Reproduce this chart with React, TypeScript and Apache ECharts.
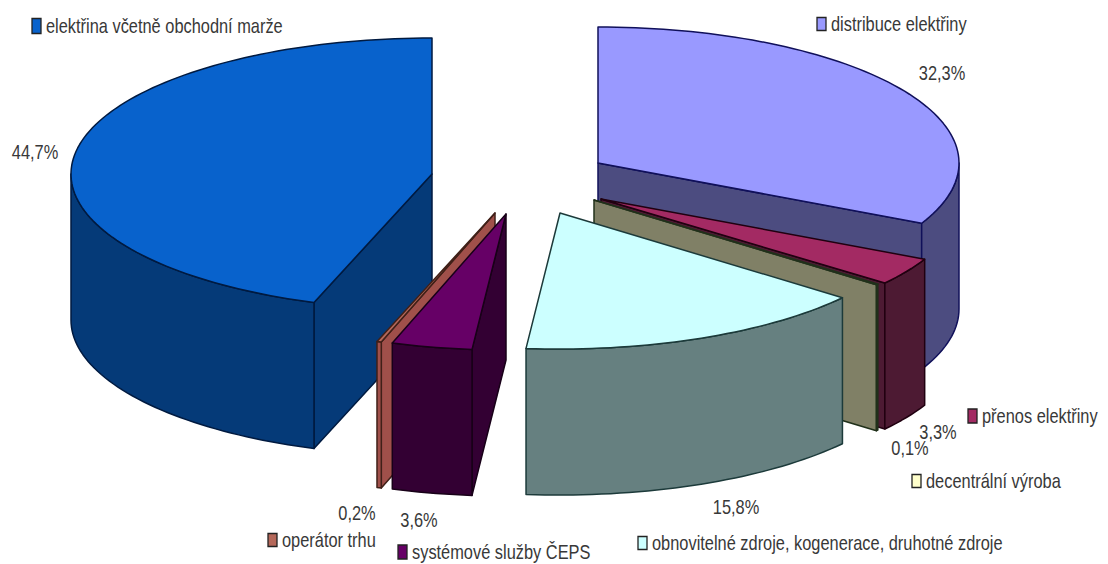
import React, { useEffect, useRef } from "react";
import * as echarts from "echarts";

// Shares of the electricity price, clockwise from twelve o'clock.
const categories = [
  "distribuce elektřiny",
  "přenos elektřiny",
  "decentrální výroba",
  "obnovitelné zdroje, kogenerace, druhotné zdroje",
  "systémové služby ČEPS",
  "operátor trhu",
  "elektřina včetně obchodní marže",
];
const shares = [32.3, 3.3, 0.1, 15.8, 3.6, 0.2, 44.7];
const percentLabels = ["32,3%", "3,3%", "0,1%", "15,8%", "3,6%", "0,2%", "44,7%"];

// Colours of the upper face and of the side walls.
const topColors = ["#9999ff", "#a32a63", "#ffffcc", "#ccffff", "#660066", "#b5685a", "#0862cc"];
const wallColors = ["#4c4c80", "#4d1a33", "#808066", "#668080", "#330033", "#a0504a", "#053a78"];
const edgeColors = ["#10105a", "#200010", "#20301a", "#1c3a3a", "#180018", "#402018", "#001a40"];

// Pie geometry: ellipse radii, extrusion height and the centre of every exploded slice.
const RX = 361;
const RY = 136;
const DEPTH = 146;
const centres = [
  [598, 163],
  [601, 199],
  [594, 200],
  [560, 213],
  [506, 214],
  [495, 213],
  [432, 174],
];

// Farthest slices are painted first.
const paintOrder = [6, 5, 4, 0, 1, 2, 3];

const labelAnchors = [
  [942, 73],
  [938, 432],
  [910, 448],
  [736, 507],
  [419, 520],
  [357, 513],
  [35, 152],
];

const legendAnchors = [
  { x: 817, y: 24, h: 13 },
  { x: 968, y: 416, h: 14 },
  { x: 912, y: 481, h: 13 },
  { x: 638, y: 543, h: 13 },
  { x: 398, y: 552, h: 14 },
  { x: 268, y: 540, h: 13 },
  { x: 32, y: 26, h: 15 },
];

// Tall, condensed lettering: a regular sans squeezed horizontally.
const FONT = '20px "Liberation Sans", sans-serif';
const TEXT_SQUEEZE = 0.82;
const TEXT_COLOR = "#383838";

const rad = (deg: number) => (deg * Math.PI) / 180;

function startAngles(): number[] {
  const total = shares.reduce((a, b) => a + b, 0);
  let acc = 0;
  return shares.map((s) => {
    const a = (acc / total) * 360;
    acc += s;
    return a;
  });
}

function renderSlice(_params: any, api: any) {
  const i = api.value(0) as number;
  const share = api.value(1) as number;
  const total = shares.reduce((a, b) => a + b, 0);
  const start = startAngles()[i];
  const end = start + (share / total) * 360;
  const [cx, cy] = centres[i];

  const at = (deg: number, drop = 0): [number, number] => [
    cx + RX * Math.sin(rad(deg)),
    cy - RY * Math.cos(rad(deg)) + drop,
  ];
  const arc = (a: number, b: number, drop = 0) => {
    const n = Math.max(2, Math.ceil(Math.abs(b - a) / 1.5));
    const pts: [number, number][] = [];
    for (let k = 0; k <= n; k++) pts.push(at(a + ((b - a) * k) / n, drop));
    return pts;
  };

  const poly = (points: number[][], fill: string) => ({
    type: "polygon",
    shape: { points },
    style: { fill, stroke: edgeColors[i], lineWidth: 1.5, lineJoin: "round" },
  });

  const children: any[] = [];
  const apex = [cx, cy];
  const apexLow = [cx, cy + DEPTH];
  const cutFace = (a: number) =>
    poly([apex, at(a), at(a, DEPTH), apexLow], wallColors[i]);

  // Radial cut faces, only those turned towards the viewer.
  if (Math.sin(rad(start)) < 0) children.push(cutFace(start));
  if (Math.sin(rad(end)) > 0) children.push(cutFace(end));

  // Curved rim: only the part on the viewer's side of the ellipse.
  const from = Math.max(start, 90);
  const to = Math.min(end, 270);
  if (to > from) {
    children.push(poly([...arc(from, to), ...arc(to, from, DEPTH)], wallColors[i]));
  }

  // Upper face.
  children.push(poly([apex, ...arc(start, end)], topColors[i]));

  children.push({
    type: "text",
    z2: 100,
    x: labelAnchors[i][0],
    y: labelAnchors[i][1],
    scaleX: TEXT_SQUEEZE,
    style: {
      text: percentLabels[i],
      x: 0,
      y: 0,
      font: FONT,
      fill: TEXT_COLOR,
      align: "center",
      verticalAlign: "middle",
    },
  });

  return { type: "group", children };
}

function legendGraphics() {
  const els: any[] = [];
  categories.forEach((name, i) => {
    const { x, y, h } = legendAnchors[i];
    els.push({
      type: "rect",
      shape: { x, y: y - h / 2, width: 9, height: h },
      style: { fill: topColors[i], stroke: "#222222", lineWidth: 1.3 },
    });
    els.push({
      type: "text",
      x: x + 14,
      y,
      scaleX: TEXT_SQUEEZE,
      style: {
        text: name,
        x: 0,
        y: 0,
        font: FONT,
        fill: TEXT_COLOR,
        align: "left",
        verticalAlign: "middle",
      },
    });
  });
  return els;
}

export default function App() {
  const ref = useRef<HTMLDivElement>(null);
  useEffect(() => {
    const chart = echarts.init(ref.current!, undefined, { renderer: "svg" });
    chart.setOption({
      animation: false,
      backgroundColor: "#ffffff",
      graphic: legendGraphics(),
      series: [
        {
          type: "custom",
          coordinateSystem: "none",
          renderItem: renderSlice,
          silent: true,
          data: paintOrder.map((i) => [i, shares[i]]),
        },
      ],
    });
    return () => chart.dispose();
  }, []);
  return (
    <div
      ref={ref}
      style={{ position: "fixed", left: 0, top: 0, width: 1108, height: 564 }}
    />
  );
}
